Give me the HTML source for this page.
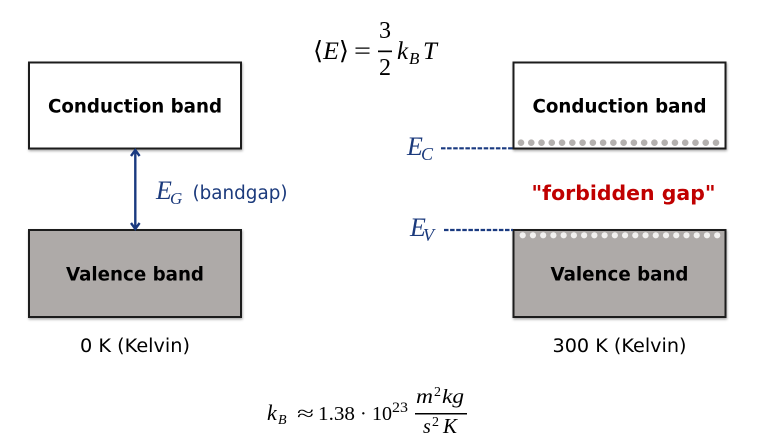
<!DOCTYPE html>
<html lang="en">
<head>
<meta charset="utf-8">
<title>Band diagram</title>
<style>
html,body{margin:0;padding:0;background:#fff;width:757px;height:439px;overflow:hidden}
svg{display:block}
.sans{font-family:"DejaVu Sans",sans-serif}
.math{font-family:"Liberation Serif",serif}
.mi{font-family:"Liberation Serif",serif;font-style:italic}
.box{stroke:#1c1c1c;stroke-width:2;filter:url(#shadow)}
.white{fill:#fff}
.grey{fill:#aeaaa8}
.bandlabel{font-size:18.5px;font-weight:bold;fill:#000;text-anchor:middle}
.kelvin{font-size:18.5px;fill:#000;text-anchor:middle}
.blue{fill:#1b3a7c}
</style>
</head>
<body>
<svg id="diagram" width="757" height="439" viewBox="0 0 757 439" xmlns="http://www.w3.org/2000/svg">
  <defs>
    <filter id="shadow" x="-5%" y="-5%" width="110%" height="115%">
      <feDropShadow dx="0.6" dy="1.5" stdDeviation="1.2" flood-color="#000" flood-opacity="0.35"/>
    </filter>
  </defs>

  <g fill="#000">
    <text class="math" x="313" y="59" font-size="25" textLength="36" lengthAdjust="spacingAndGlyphs">⟨<tspan class="mi">E</tspan>⟩</text>
    <text class="math" x="354" y="59" font-size="25" textLength="17" lengthAdjust="spacingAndGlyphs">=</text>
    <text class="math" x="385" y="38" font-size="24" text-anchor="middle">3</text>
    <rect x="378" y="50.5" width="14" height="1.7"/>
    <text class="math" x="385" y="75" font-size="24" text-anchor="middle">2</text>
    <text class="mi" x="397" y="59" font-size="25">k</text>
    <text class="mi" x="409" y="64" font-size="17">B</text>
    <text class="mi" x="423" y="59" font-size="25">T</text>
  </g>

  <rect class="box white" x="29" y="62.5" width="212" height="86"/>
  <text class="sans bandlabel" x="135" y="112.5" textLength="174" lengthAdjust="spacingAndGlyphs">Conduction band</text>

  <rect class="box grey" x="29" y="230" width="212" height="87"/>
  <text class="sans bandlabel" x="135" y="280.5" textLength="138" lengthAdjust="spacingAndGlyphs">Valence band</text>

  <g stroke="#1a3a80" stroke-width="2.4" fill="none">
    <line x1="135.3" y1="150" x2="135.3" y2="229"/>
    <polyline points="131,156 135.3,150 139.6,156"/>
    <polyline points="131,223 135.3,229 139.6,223"/>
  </g>
  <g>
    <text class="mi blue" x="156" y="199" font-size="26">E</text>
    <text class="mi blue" x="170" y="204" font-size="17">G</text>
    <text class="sans blue" x="192.5" y="199" font-size="18.5" textLength="95" lengthAdjust="spacingAndGlyphs">(bandgap)</text>
  </g>
  <text class="sans kelvin" x="135" y="352" textLength="110" lengthAdjust="spacingAndGlyphs">0 K (Kelvin)</text>

  <rect class="box white" x="513.5" y="62.5" width="212" height="86"/>
  <text class="sans bandlabel" x="619.5" y="112.5" textLength="174" lengthAdjust="spacingAndGlyphs">Conduction band</text>

  <rect class="box grey" x="513.5" y="230" width="212" height="87"/>
  <text class="sans bandlabel" x="619.5" y="280.5" textLength="138" lengthAdjust="spacingAndGlyphs">Valence band</text>

  <g id="conduction-dots"></g>
  <g id="valence-dots"></g>

  <g>
    <text class="mi blue" x="407" y="155" font-size="26">E</text>
    <text class="mi blue" x="421" y="160" font-size="18">C</text>
  </g>
  <line x1="441" y1="148.3" x2="513" y2="148.3" stroke="#1a3a80" stroke-width="2.2" stroke-dasharray="4.5 1.6"/>

  <g>
    <text class="mi blue" x="410" y="236" font-size="26">E</text>
    <text class="mi blue" x="423" y="241" font-size="18">V</text>
  </g>
  <line x1="444" y1="230" x2="513" y2="230" stroke="#1a3a80" stroke-width="2.2" stroke-dasharray="4.5 1.6"/>

  <text class="sans" x="623.5" y="200" font-size="20.5" font-weight="bold" fill="#c00000" text-anchor="middle" textLength="184" lengthAdjust="spacingAndGlyphs">"forbidden gap"</text>

  <text class="sans kelvin" x="619.5" y="352" textLength="134" lengthAdjust="spacingAndGlyphs">300 K (Kelvin)</text>

  <g fill="#000">
    <text class="mi" x="267" y="420" font-size="22">k</text>
    <text class="mi" x="278" y="424" font-size="14">B</text>
    <text class="math" x="297" y="420" font-size="20" textLength="17" lengthAdjust="spacingAndGlyphs">≈</text>
    <text class="math" x="318" y="420" font-size="20" textLength="37" lengthAdjust="spacingAndGlyphs">1.38</text>
    <text class="math" x="360" y="420" font-size="20">·</text>
    <text class="math" x="372" y="420" font-size="20">10</text>
    <text class="math" x="392" y="412" font-size="15" textLength="16" lengthAdjust="spacingAndGlyphs">23</text>
    <text class="mi" x="416" y="403" font-size="20" textLength="17" lengthAdjust="spacingAndGlyphs">m</text>
    <text class="math" x="434" y="396" font-size="14">2</text>
    <text class="mi" x="442" y="403" font-size="20" textLength="22" lengthAdjust="spacingAndGlyphs">kg</text>
    <rect x="415" y="413" width="52" height="1.5"/>
    <text class="mi" x="423" y="433" font-size="20">s</text>
    <text class="math" x="432" y="426" font-size="14">2</text>
    <text class="mi" x="443" y="433" font-size="21">K</text>
  </g>
</svg>
<script>
const electronCount = 20;
const holeCount = 20;
const svgNS = 'http://www.w3.org/2000/svg';
const conductionGroup = document.getElementById('conduction-dots');
for (let i = 0; i < electronCount; i++) {
  const dot = document.createElementNS(svgNS, 'circle');
  
  
  dot.setAttribute('cx', 521 + i * 195 / (electronCount - 1));
  dot.setAttribute('cy', 142.7);
  dot.setAttribute('r', 3.3);
  dot.setAttribute('fill', '#b4b1af');
  conductionGroup.appendChild(dot);
}
const valenceGroup = document.getElementById('valence-dots');
for (let i = 0; i < holeCount; i++) {
  const dot = document.createElementNS(svgNS, 'circle');
  
  
  dot.setAttribute('cx', 522.7 + i * 194.5 / (holeCount - 1));
  dot.setAttribute('cy', 235.3);
  dot.setAttribute('r', 3.1);
  dot.setAttribute('fill', '#f2f1f0');
  valenceGroup.appendChild(dot);
}
</script>
</body>
</html>
